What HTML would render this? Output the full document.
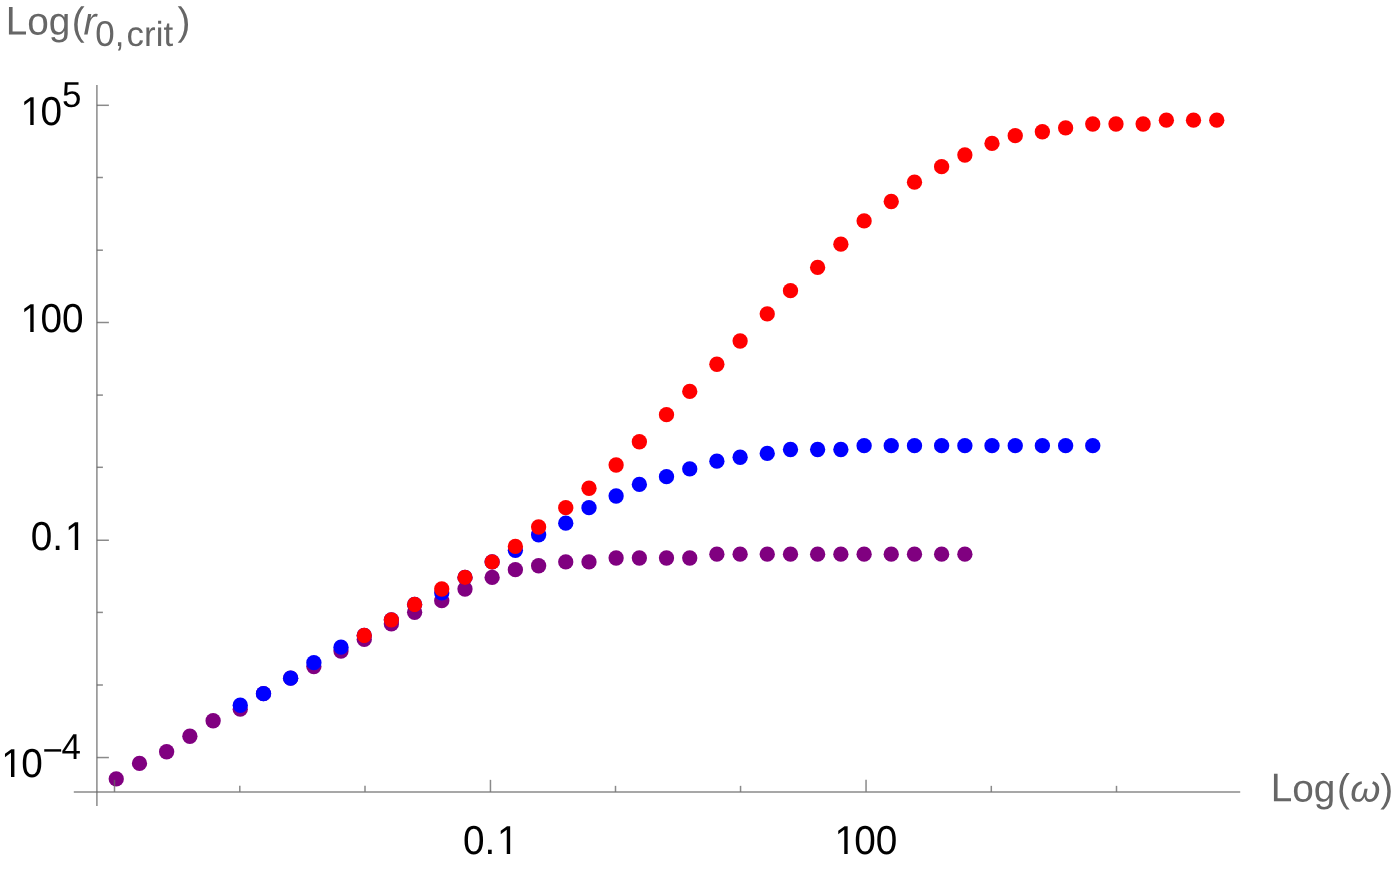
<!DOCTYPE html>
<html><head><meta charset="utf-8"><title>plot</title>
<style>
html,body{margin:0;padding:0;background:#fff;}
body{width:1395px;height:872px;overflow:hidden;}
svg{display:block;will-change:transform;}
text{font-family:"Liberation Sans",sans-serif;text-rendering:geometricPrecision;}
.t{font-size:38.75px;fill:#000;}
.s{font-size:34.875px;fill:#000;}
.l{font-size:38.75px;fill:#666;}
.ls{font-size:34.875px;fill:#666;}
.i{font-style:italic;}
</style></head><body>
<svg width="1395" height="872" viewBox="0 0 1395 872">
<rect width="1395" height="872" fill="#fff"/>
<g fill="#800080">
<circle cx="116.250" cy="778.875" r="7.65"/>
<circle cx="139.500" cy="763.375" r="7.65"/>
<circle cx="166.625" cy="751.750" r="7.65"/>
<circle cx="189.875" cy="736.250" r="7.65"/>
<circle cx="213.125" cy="720.750" r="7.65"/>
<circle cx="240.250" cy="709.125" r="7.65"/>
<circle cx="263.500" cy="693.625" r="7.65"/>
<circle cx="290.625" cy="678.125" r="7.65"/>
<circle cx="313.875" cy="666.500" r="7.65"/>
<circle cx="341.000" cy="651.000" r="7.65"/>
<circle cx="364.250" cy="639.375" r="7.65"/>
<circle cx="391.375" cy="623.875" r="7.65"/>
<circle cx="414.625" cy="612.250" r="7.65"/>
<circle cx="441.750" cy="600.625" r="7.65"/>
<circle cx="465.000" cy="589.000" r="7.65"/>
<circle cx="492.125" cy="577.375" r="7.65"/>
<circle cx="515.375" cy="569.625" r="7.65"/>
<circle cx="538.625" cy="565.750" r="7.65"/>
<circle cx="565.750" cy="561.875" r="7.65"/>
<circle cx="589.000" cy="561.875" r="7.65"/>
<circle cx="616.125" cy="558.000" r="7.65"/>
<circle cx="639.375" cy="558.000" r="7.65"/>
<circle cx="666.500" cy="558.000" r="7.65"/>
<circle cx="689.750" cy="558.000" r="7.65"/>
<circle cx="716.875" cy="554.125" r="7.65"/>
<circle cx="740.125" cy="554.125" r="7.65"/>
<circle cx="767.250" cy="554.125" r="7.65"/>
<circle cx="790.500" cy="554.125" r="7.65"/>
<circle cx="817.625" cy="554.125" r="7.65"/>
<circle cx="840.875" cy="554.125" r="7.65"/>
<circle cx="864.125" cy="554.125" r="7.65"/>
<circle cx="891.250" cy="554.125" r="7.65"/>
<circle cx="914.500" cy="554.125" r="7.65"/>
<circle cx="941.625" cy="554.125" r="7.65"/>
<circle cx="964.875" cy="554.125" r="7.65"/>
</g>
<g fill="#0000ff">
<circle cx="240.250" cy="705.250" r="7.65"/>
<circle cx="263.500" cy="693.625" r="7.65"/>
<circle cx="290.625" cy="678.125" r="7.65"/>
<circle cx="313.875" cy="662.625" r="7.65"/>
<circle cx="341.000" cy="647.125" r="7.65"/>
<circle cx="364.250" cy="635.500" r="7.65"/>
<circle cx="391.375" cy="620.000" r="7.65"/>
<circle cx="414.625" cy="604.500" r="7.65"/>
<circle cx="441.750" cy="592.875" r="7.65"/>
<circle cx="465.000" cy="577.375" r="7.65"/>
<circle cx="492.125" cy="561.875" r="7.65"/>
<circle cx="515.375" cy="550.250" r="7.65"/>
<circle cx="538.625" cy="534.750" r="7.65"/>
<circle cx="565.750" cy="523.125" r="7.65"/>
<circle cx="589.000" cy="507.625" r="7.65"/>
<circle cx="616.125" cy="496.000" r="7.65"/>
<circle cx="639.375" cy="484.375" r="7.65"/>
<circle cx="666.500" cy="476.625" r="7.65"/>
<circle cx="689.750" cy="468.875" r="7.65"/>
<circle cx="716.875" cy="461.125" r="7.65"/>
<circle cx="740.125" cy="457.250" r="7.65"/>
<circle cx="767.250" cy="453.375" r="7.65"/>
<circle cx="790.500" cy="449.500" r="7.65"/>
<circle cx="817.625" cy="449.500" r="7.65"/>
<circle cx="840.875" cy="449.500" r="7.65"/>
<circle cx="864.125" cy="445.625" r="7.65"/>
<circle cx="891.250" cy="445.625" r="7.65"/>
<circle cx="914.500" cy="445.625" r="7.65"/>
<circle cx="941.625" cy="445.625" r="7.65"/>
<circle cx="964.875" cy="445.625" r="7.65"/>
<circle cx="992.000" cy="445.625" r="7.65"/>
<circle cx="1015.250" cy="445.625" r="7.65"/>
<circle cx="1042.375" cy="445.625" r="7.65"/>
<circle cx="1065.625" cy="445.625" r="7.65"/>
<circle cx="1092.750" cy="445.625" r="7.65"/>
</g>
<g fill="#ff0000">
<circle cx="364.250" cy="635.500" r="7.65"/>
<circle cx="391.375" cy="620.000" r="7.65"/>
<circle cx="414.625" cy="604.500" r="7.65"/>
<circle cx="441.750" cy="589.000" r="7.65"/>
<circle cx="465.000" cy="577.375" r="7.65"/>
<circle cx="492.125" cy="561.875" r="7.65"/>
<circle cx="515.375" cy="546.375" r="7.65"/>
<circle cx="538.625" cy="527.000" r="7.65"/>
<circle cx="565.750" cy="507.625" r="7.65"/>
<circle cx="589.000" cy="488.250" r="7.65"/>
<circle cx="616.125" cy="465.000" r="7.65"/>
<circle cx="639.375" cy="441.750" r="7.65"/>
<circle cx="666.500" cy="414.625" r="7.65"/>
<circle cx="689.750" cy="391.375" r="7.65"/>
<circle cx="716.875" cy="364.250" r="7.65"/>
<circle cx="740.125" cy="341.000" r="7.65"/>
<circle cx="767.250" cy="313.875" r="7.65"/>
<circle cx="790.500" cy="290.625" r="7.65"/>
<circle cx="817.625" cy="267.375" r="7.65"/>
<circle cx="840.875" cy="244.125" r="7.65"/>
<circle cx="864.125" cy="220.875" r="7.65"/>
<circle cx="891.250" cy="201.500" r="7.65"/>
<circle cx="914.500" cy="182.125" r="7.65"/>
<circle cx="941.625" cy="166.625" r="7.65"/>
<circle cx="964.875" cy="155.000" r="7.65"/>
<circle cx="992.000" cy="143.375" r="7.65"/>
<circle cx="1015.250" cy="135.625" r="7.65"/>
<circle cx="1042.375" cy="131.750" r="7.65"/>
<circle cx="1065.625" cy="127.875" r="7.65"/>
<circle cx="1092.750" cy="124.000" r="7.65"/>
<circle cx="1116.000" cy="124.000" r="7.65"/>
<circle cx="1143.125" cy="124.000" r="7.65"/>
<circle cx="1166.375" cy="120.125" r="7.65"/>
<circle cx="1193.500" cy="120.125" r="7.65"/>
<circle cx="1216.750" cy="120.125" r="7.65"/>
</g>
<g stroke="#666" stroke-opacity="0.765" stroke-width="1.5" fill="none">
<line x1="96.9" y1="85.05" x2="96.9" y2="805.9"/>
<line x1="73.8" y1="791.95" x2="1240.2" y2="791.95"/>
<line x1="96.9" y1="105.30" x2="108.90" y2="105.30"/>
<line x1="96.9" y1="177.50" x2="102.90" y2="177.50"/>
<line x1="96.9" y1="250.20" x2="102.90" y2="250.20"/>
<line x1="96.9" y1="322.50" x2="108.90" y2="322.50"/>
<line x1="96.9" y1="395.10" x2="102.90" y2="395.10"/>
<line x1="96.9" y1="467.30" x2="102.90" y2="467.30"/>
<line x1="96.9" y1="540.25" x2="108.90" y2="540.25"/>
<line x1="96.9" y1="612.40" x2="102.90" y2="612.40"/>
<line x1="96.9" y1="685.00" x2="102.90" y2="685.00"/>
<line x1="96.9" y1="757.55" x2="108.90" y2="757.55"/>
<line x1="114.50" y1="791.85" x2="114.50" y2="779.85"/>
<line x1="239.80" y1="791.85" x2="239.80" y2="785.85"/>
<line x1="365.00" y1="791.85" x2="365.00" y2="785.85"/>
<line x1="490.45" y1="791.85" x2="490.45" y2="779.85"/>
<line x1="615.50" y1="791.85" x2="615.50" y2="785.85"/>
<line x1="740.55" y1="791.85" x2="740.55" y2="785.85"/>
<line x1="866.05" y1="791.85" x2="866.05" y2="779.85"/>
<line x1="991.30" y1="791.85" x2="991.30" y2="785.85"/>
<line x1="1116.50" y1="791.85" x2="1116.50" y2="785.85"/>
</g>
<text class="t" transform="translate(20.50,125.00) scale(1,1.04)">1</text>
<text class="t" transform="translate(40.45,125.00) scale(1,1.04)">0</text>
<text class="s" transform="translate(61.96,106.50) scale(1,1.035)">5</text>
<text class="t" transform="translate(20.50,332.00) scale(1,1.04)">1</text>
<text class="t" transform="translate(40.41,332.00) scale(1,1.04)">00</text>
<text class="t" transform="translate(30.70,550.00) scale(1,1.04)">0.</text>
<text class="t" transform="translate(65.00,550.00) scale(1,1.04)">1</text>
<text class="t" transform="translate(1.25,777.00) scale(1,1.04)">1</text>
<text class="t" transform="translate(21.15,777.00) scale(1,1.04)">0</text>
<text class="s" transform="translate(42.60,761.90) scale(1,1)">−</text>
<text class="s" transform="translate(61.60,758.90) scale(1,1.035)">4</text>
<text class="t" transform="translate(462.90,854.00) scale(1,1.04)">0.</text>
<text class="t" transform="translate(497.00,854.00) scale(1,1.04)">1</text>
<text class="t" transform="translate(834.50,854.00) scale(1,1.04)">1</text>
<text class="t" transform="translate(854.25,854.00) scale(1,1.04)">00</text>
<g fill="#fff"><rect x="22.00" y="121.90" width="8.25" height="3.6"/><rect x="33.66" y="121.90" width="8.00" height="3.6"/><rect x="22.00" y="328.90" width="8.25" height="3.6"/><rect x="33.66" y="328.90" width="8.00" height="3.6"/><rect x="66.50" y="546.90" width="8.25" height="3.6"/><rect x="78.16" y="546.90" width="8.00" height="3.6"/><rect x="2.75" y="773.90" width="8.25" height="3.6"/><rect x="14.41" y="773.90" width="8.00" height="3.6"/><rect x="498.50" y="850.90" width="8.25" height="3.6"/><rect x="510.16" y="850.90" width="8.00" height="3.6"/><rect x="836.00" y="850.90" width="8.25" height="3.6"/><rect x="847.66" y="850.90" width="8.00" height="3.6"/></g>
<text class="l" transform="translate(5.65,34.40) scale(1,1.03) rotate(0.03)">L</text>
<text class="l" transform="translate(27.15,34.45) scale(1,1) rotate(0.03)">og</text>
<text class="l" transform="translate(71.70,34.75) scale(1,1.012) rotate(0.03)">(</text>
<text class="l i" transform="translate(83.50,34.40) scale(1,1) rotate(0.03)">r</text>
<text class="ls" transform="translate(95.30,46.10) scale(1,1.03) rotate(0.03)">0,</text>
<text class="ls" transform="translate(126.60,45.95) scale(1,1) rotate(0.03)">crit</text>
<text class="l" transform="translate(177.40,34.75) scale(1,1.012) rotate(0.03)">)</text>
<text class="l" transform="translate(1270.75,801.35) scale(1,1.033) rotate(0.03)">L</text>
<text class="l" transform="translate(1292.25,801.45) scale(1,1) rotate(0.03)">og</text>
<text class="l" transform="translate(1336.90,801.55) scale(1,1.012) rotate(0.03)">(</text>
<text class="l i" transform="translate(1350.30,801.60) scale(1,0.97) rotate(0.03)">ω</text>
<text class="l" transform="translate(1380.20,801.55) scale(1,1.012) rotate(0.03)">)</text>
</svg>
</body></html>
